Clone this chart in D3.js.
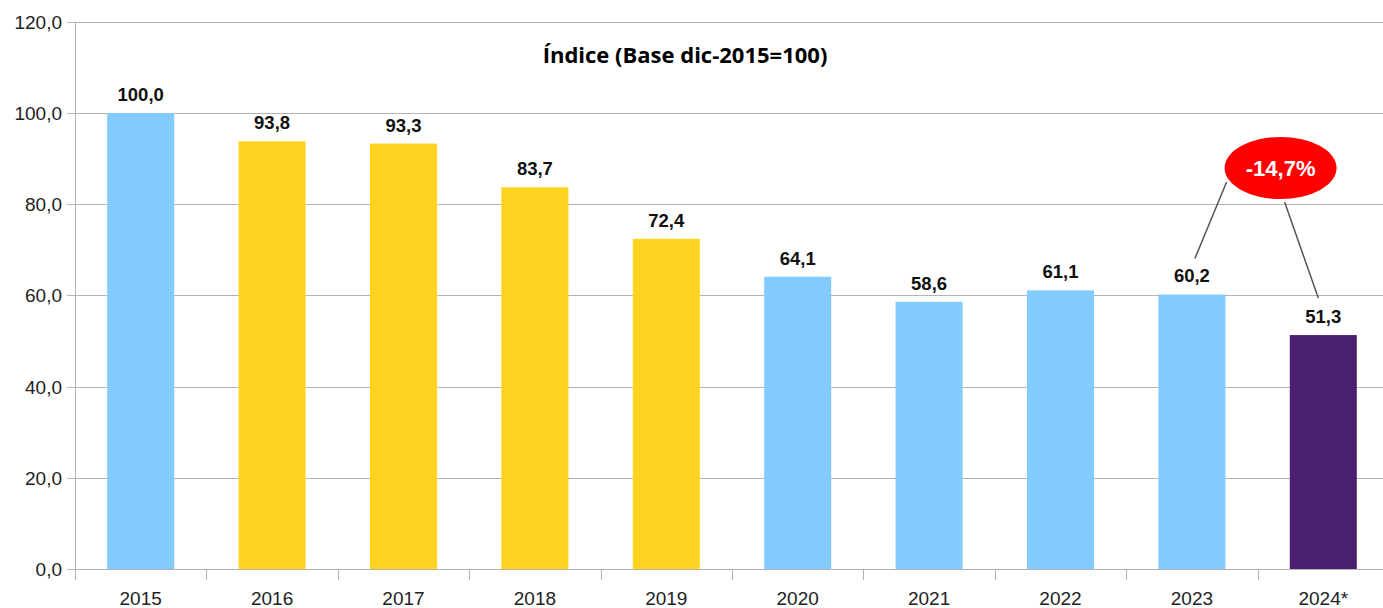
<!DOCTYPE html>
<html><head><meta charset="utf-8">
<script src="https://cdn.jsdelivr.net/npm/d3@7"></script>
<style>body{margin:0;background:#fff}svg{display:block}</style>
</head><body>
<svg id="c" width="1383" height="608"></svg>
<script>
const categories = ["2015","2016","2017","2018","2019","2020","2021","2022","2023","2024*"];
const values = [100.0, 93.8, 93.3, 83.7, 72.4, 64.1, 58.6, 61.1, 60.2, 51.3];
const colorGroups = ["blue","yellow","yellow","yellow","yellow","blue","blue","blue","blue","purple"];
const yTicks = [0, 20, 40, 60, 80, 100, 120];
const title = "Índice (Base dic-2015=100)";
const changeLabel = "-14,7%";

(function(){
const palette = {blue:"#83caff", yellow:"#ffd320", purple:"#4b1f6f"};
const fmt = v => v.toFixed(1).replace(".", ",");

const svg = d3.select("#c");
const mLeft = 75, mTop = 21.8, mBottom = 569, bandW = 131.4;
const x = d3.scaleBand().domain(categories).range([mLeft, mLeft + bandW*categories.length]).paddingInner(0.49).paddingOuter(0.245);
const xb = d3.scaleBand().domain(categories).range([mLeft, mLeft + bandW*categories.length]);
const y = d3.scaleLinear().domain([0,120]).range([mBottom, mTop]);

svg.append("g").selectAll("line").data(yTicks).join("line")
  .attr("x1", mLeft-8).attr("x2", 1383).attr("y1", d=>Math.round(y(d))+0.5).attr("y2", d=>Math.round(y(d))+0.5)
  .attr("stroke", "#b3b3b3").attr("stroke-width", 1);

svg.append("g").selectAll("text").data(yTicks).join("text")
  .attr("x", 62).attr("y", d=>y(d)+7).attr("text-anchor","end")
  .attr("font-family","Liberation Sans, Arial, sans-serif").attr("font-size",19).attr("fill","#222")
  .text(d=>fmt(d));

svg.append("line").attr("x1",mLeft+0.5).attr("x2",mLeft+0.5).attr("y1",mTop).attr("y2",mBottom+11)
  .attr("stroke","#b3b3b3");

svg.append("g").selectAll("line").data(categories.slice(1)).join("line")
  .attr("x1", d=>Math.round(xb(d))+0.5).attr("x2", d=>Math.round(xb(d))+0.5).attr("y1", mBottom).attr("y2", mBottom+11)
  .attr("stroke","#b3b3b3");

svg.append("g").selectAll("rect").data(categories).join("rect")
  .attr("x", d=>x(d)).attr("width", x.bandwidth())
  .attr("y", (d,i)=>y(values[i])).attr("height", (d,i)=>mBottom - y(values[i]))
  .attr("fill", (d,i)=>palette[colorGroups[i]]);

svg.append("g").selectAll("text").data(categories).join("text")
  .attr("x", d=>x(d)+x.bandwidth()/2).attr("y", (d,i)=>y(values[i])-12)
  .attr("text-anchor","middle").attr("font-family","Liberation Sans, Arial, sans-serif")
  .attr("font-weight","bold").attr("font-size",18.5).attr("fill","#111")
  .text((d,i)=>fmt(values[i]));

svg.append("g").selectAll("text").data(categories).join("text")
  .attr("x", d=>x(d)+x.bandwidth()/2).attr("y", 605)
  .attr("text-anchor","middle").attr("font-family","Liberation Sans, Arial, sans-serif")
  .attr("font-size",19).attr("fill","#222").text(d=>d);

svg.append("text").attr("x", 685).attr("y", 63).attr("text-anchor","middle")
  .attr("font-family","Open Sans, sans-serif").attr("font-weight","bold")
  .attr("font-size",22).attr("fill","#000").text(title);

const c1 = categories[8], c2 = categories[9];
const cx = xb(c2) + 23, cy = y(100) + 55;
const p1 = {x: x(c1)+x.bandwidth()/2+3, y: y(values[8])-36};
const p2 = {x: x(c2)+x.bandwidth()/2-5, y: y(values[9])-37};
svg.append("line").attr("x1", cx-54).attr("y1", cy+14).attr("x2", p1.x).attr("y2", p1.y)
  .attr("stroke","#555").attr("stroke-width",1.5);
svg.append("line").attr("x1", cx+4).attr("y1", cy+34).attr("x2", p2.x).attr("y2", p2.y)
  .attr("stroke","#555").attr("stroke-width",1.5);
svg.append("ellipse").attr("cx", cx).attr("cy", cy).attr("rx", 56).attr("ry", 31).attr("fill","#ff0000");
svg.append("text").attr("x", cx).attr("y", cy+8).attr("text-anchor","middle")
  .attr("font-family","Liberation Sans, Arial, sans-serif").attr("font-weight","bold")
  .attr("font-size",22).attr("fill","#fff").text(changeLabel);
})();
</script>
</body></html>
